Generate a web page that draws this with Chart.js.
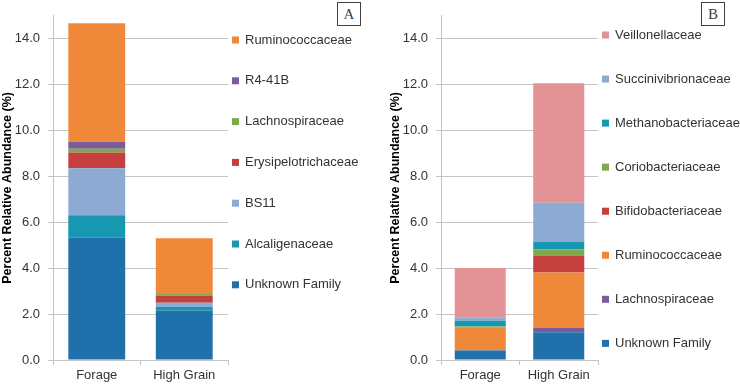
<!DOCTYPE html>
<html>
<head>
<meta charset="utf-8">
<script src="https://cdn.jsdelivr.net/npm/chart.js@4"></script>
<style>
  body { margin: 0; background: #fff; }
  .panel { position: absolute; top: 0; width: 370px; height: 384px; }
  .tag {
    position: absolute; top: 2px; width: 22px; height: 22px;
    border: 1px solid #404040; background: #fff;
    font: 15px "Liberation Serif", "DejaVu Serif", serif; color: #404040;
    text-align: center; line-height: 22px;
  }
</style>
</head>
<body>
<div class="panel" style="left:0">
  <canvas id="chartA" width="370" height="384"></canvas>
  <div class="tag" style="left:337px">A</div>
</div>
<div class="panel" style="left:370px">
  <canvas id="chartB" width="370" height="384"></canvas>
  <div class="tag" style="left:331px">B</div>
</div>
<script>
// data (bottom of stack first)
const categories = ["Forage", "High Grain"];

const familiesA = ["Unknown Family", "Alcaligenaceae", "BS11", "Erysipelotrichaceae", "Lachnospiraceae", "R4-41B", "Ruminococcaceae"];
const forageA = [5.33, 0.98, 2.05, 0.68, 0.17, 0.30, 5.17];
const highGrainA = [2.16, 0.16, 0.17, 0.31, 0.09, 0.02, 2.40];

const familiesB = ["Unknown Family", "Lachnospiraceae", "Ruminococcaceae", "Bifidobacteriaceae", "Coriobacteriaceae", "Methanobacteriaceae", "Succinivibrionaceae", "Veillonellaceae"];
const forageB = [0.41, 0.02, 0.99, 0.02, 0.02, 0.25, 0.15, 2.15];
const highGrainB = [1.21, 0.21, 2.39, 0.74, 0.28, 0.32, 1.70, 5.21];

const yMax = 15;
const yStep = 2;
const yTitle = "Percent Relative Abundance (%)";

const colors = {
    "Unknown Family": "#2070ac",
    "Alcaligenaceae": "#1798b0",
    "BS11": "#8daad4",
    "Erysipelotrichaceae": "#c3403e",
    "Lachnospiraceae": "#80a94b",
    "R4-41B": "#7a5c9a",
    "Ruminococcaceae": "#f0883a",
    "Bifidobacteriaceae": "#c3403e",
    "Coriobacteriaceae": "#80a94b",
    "Methanobacteriaceae": "#1798b0",
    "Succinivibrionaceae": "#8daad4",
    "Veillonellaceae": "#e39296"
};
// Lachnospiraceae is purple in panel B
const colorsB = Object.assign({}, colors, { "Lachnospiraceae": "#7a5c9a" });

const FONT = '"Liberation Sans", Arial, sans-serif';
const TEXT = "#333333";
const GRID = "#c4c4c4";

// legend drawn on the right, top item = last dataset
const sideLegend = {
    id: "sideLegend",
    afterDraw(chart, args, opts) {
        const ctx = chart.ctx;
        const sets = chart.data.datasets;
        ctx.save();
        ctx.font = "13px " + FONT;
        ctx.textBaseline = "middle";
        ctx.textAlign = "left";
        for (let k = 0; k < sets.length; k++) {
            const ds = sets[sets.length - 1 - k];
            const y = opts.startY + k * opts.step;
            ctx.fillStyle = ds.backgroundColor;
            ctx.fillRect(232, y - 3.5, 7, 7);
            ctx.fillStyle = TEXT;
            ctx.fillText(ds.label, 245, y);
        }
        ctx.restore();
    }
};

function makeChart(id, families, forage, highGrain, palette, padLeft, startY, step) {
    const datasets = families.map((name, i) => ({
        label: name,
        data: [forage[i], highGrain[i]],
        backgroundColor: palette[name],
        borderWidth: 0,
        categoryPercentage: 1,
        barPercentage: 0.65
    }));

    new Chart(document.getElementById(id), {
        type: "bar",
        data: { labels: categories, datasets },
        plugins: [sideLegend],
        options: {
            responsive: false,
            animation: false,
            layout: { padding: { left: padLeft, right: 142, top: 8, bottom: 0 } },
            plugins: {
                legend: { display: false },
                tooltip: { enabled: false },
                sideLegend: { startY, step }
            },
            scales: {
                x: {
                    stacked: true,
                    grid: { drawOnChartArea: false, drawTicks: true, tickLength: 5, color: GRID },
                    border: { color: GRID },
                    ticks: { color: TEXT, font: { family: FONT, size: 13 }, padding: 3 },
                    afterFit(s) { s.height = 24; }
                },
                y: {
                    stacked: true,
                    min: 0,
                    max: yMax,
                    afterBuildTicks(s) { s.ticks = s.ticks.filter(t => t.value <= 14); },
                    ticks: {
                        stepSize: yStep,
                        color: TEXT,
                        font: { family: FONT, size: 13 },
                        padding: 8,
                        callback: v => Number(v).toFixed(1)
                    },
                    grid: { color: GRID, tickLength: 5 },
                    border: { color: GRID },
                    title: {
                        display: true,
                        text: yTitle,
                        color: "#000",
                        font: { family: FONT, size: 12.5, weight: "bold" },
                        padding: { top: 0, bottom: 0 }
                    },
                    afterFit(s) { s.width = 53; }
                }
            }
        }
    });
}

makeChart("chartA", familiesA, forageA, highGrainA, colors, 0, 40, 40.8);
makeChart("chartB", familiesB, forageB, highGrainB, colorsB, 18, 35, 44.05);
</script>
</body>
</html>
